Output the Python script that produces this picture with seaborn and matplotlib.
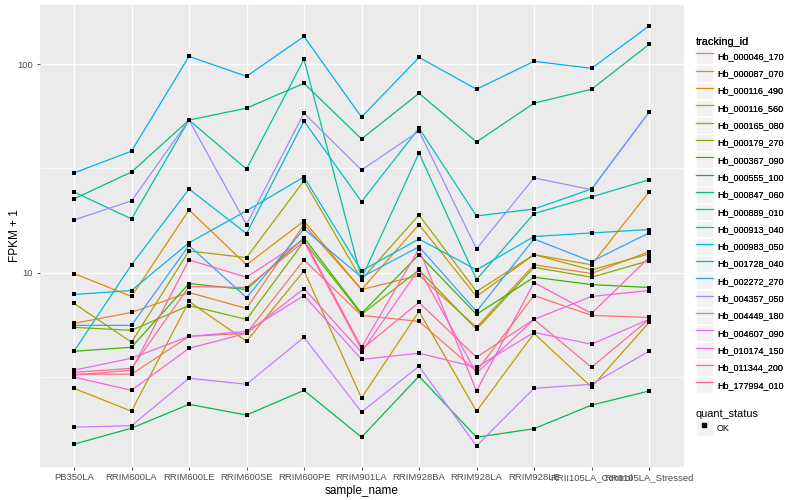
import numpy as np
import pandas as pd
import matplotlib
matplotlib.use("Agg")
import matplotlib.pyplot as plt
import seaborn as sns
from matplotlib.lines import Line2D
from matplotlib.patches import Rectangle
from matplotlib.legend_handler import HandlerLine2D
from matplotlib.ticker import NullFormatter

# ---- data (FPKM + 1 per sample) ----
samples = [
    "PB350LA", "RRIM600LA", "RRIM600LE", "RRIM600SE", "RRIM600PE", "RRIM901LA",
    "RRIM928BA", "RRIM928LA", "RRIM928LE", "RRII105LA_Control", "RRII105LA_Stressed",
]

hb_000046_170 = [3.25, 3.25, 4.94, 5.11, 11.5, 6.23, 5.83, 3.36, 7.76, 6.23, 6.09]
hb_000087_070 = [5.70, 6.44, 8.02, 6.73, 17.0, 8.29, 9.7, 5.46, 10.9, 9.9, 12.6]
hb_000116_490 = [9.9, 7.68, 20.0, 10.9, 17.7, 8.29, 17.0, 7.68, 12.2, 10.9, 24.4]
hb_000116_560 = [2.78, 2.16, 7.27, 4.68, 10.2, 2.50, 6.51, 2.16, 5.11, 2.82, 5.76]
hb_000165_080 = [7.11, 4.63, 12.7, 11.8, 27.6, 9.26, 18.9, 8.11, 12.2, 10.3, 12.3]
hb_000179_270 = [5.46, 5.28, 6.95, 5.96, 14.1, 6.30, 10.3, 5.34, 10.6, 9.5, 11.4]
hb_000367_090 = [4.19, 4.38, 8.86, 8.29, 14.7, 6.37, 12.2, 6.30, 9.5, 8.76, 8.48]
hb_000555_100 = [1.50, 1.79, 2.33, 2.07, 2.72, 1.62, 3.18, 1.62, 1.78, 2.31, 2.70]
hb_000847_060 = [22.6, 30.4, 54.0, 61.6, 81.1, 43.8, 72.6, 42.4, 65.1, 75.9, 124.6]
hb_000889_010 = [24.4, 18.1, 54.0, 31.4, 105.7, 9.36, 37.5, 9.26, 19.2, 23.1, 27.9]
hb_000913_040 = [4.19, 10.9, 25.2, 15.4, 53.4, 21.9, 49.4, 18.7, 20.2, 25.2, 58.9]
hb_000983_050 = [7.85, 8.20, 13.9, 19.8, 28.8, 10.2, 14.5, 10.3, 14.9, 15.5, 16.1]
hb_001728_040 = [30.1, 38.3, 109.2, 87.6, 136.1, 55.8, 108.0, 75.9, 103.4, 95.7, 152.8]
hb_002272_270 = [5.58, 5.58, 13.5, 7.59, 16.2, 9.5, 13.3, 6.51, 14.5, 11.3, 15.5]
hb_004357_050 = [17.9, 22.1, 54.0, 17.0, 58.3, 31.1, 47.8, 13.0, 28.5, 25.0, 58.9]
hb_004449_180 = [1.81, 1.84, 3.11, 2.91, 4.89, 2.14, 3.55, 1.47, 2.78, 2.91, 4.19]
hb_004607_090 = [3.40, 3.88, 4.94, 5.22, 7.76, 3.83, 4.10, 3.51, 5.16, 4.53, 5.96]
hb_010174_150 = [3.15, 2.72, 4.33, 5.11, 8.38, 4.15, 10.4, 3.29, 5.96, 7.68, 8.20]
hb_011344_200 = [3.22, 3.40, 11.5, 9.5, 14.4, 4.38, 13.0, 2.70, 8.96, 6.37, 11.8]
hb_177994_010 = [3.32, 3.47, 8.57, 8.48, 14.1, 4.28, 7.19, 3.92, 5.96, 3.51, 5.96]

tracking_ids = [
    "Hb_000046_170", "Hb_000087_070", "Hb_000116_490", "Hb_000116_560",
    "Hb_000165_080", "Hb_000179_270", "Hb_000367_090", "Hb_000555_100",
    "Hb_000847_060", "Hb_000889_010", "Hb_000913_040", "Hb_000983_050",
    "Hb_001728_040", "Hb_002272_270", "Hb_004357_050", "Hb_004449_180",
    "Hb_004607_090", "Hb_010174_150", "Hb_011344_200", "Hb_177994_010",
]
series = [
    hb_000046_170, hb_000087_070, hb_000116_490, hb_000116_560, hb_000165_080,
    hb_000179_270, hb_000367_090, hb_000555_100, hb_000847_060, hb_000889_010,
    hb_000913_040, hb_000983_050, hb_001728_040, hb_002272_270, hb_004357_050,
    hb_004449_180, hb_004607_090, hb_010174_150, hb_011344_200, hb_177994_010,
]
quant_status = "OK"


def hcl_color(h, c=100.0, l=65.0):
    """Polar Luv -> sRGB, same as R's hcl()."""
    xn, yn, zn = 95.047, 100.0, 108.883
    un = 4 * xn / (xn + 15 * yn + 3 * zn)
    vn = 9 * yn / (xn + 15 * yn + 3 * zn)
    hr = np.deg2rad(h)
    up = c * np.cos(hr) / (13 * l) + un
    vp = c * np.sin(hr) / (13 * l) + vn
    y = yn * ((l + 16) / 116) ** 3
    x = y * 9 * up / (4 * vp)
    z = y * (12 - 3 * up - 20 * vp) / (4 * vp)
    m = np.array([[3.240479, -1.537150, -0.498535],
                  [-0.969256, 1.875992, 0.041556],
                  [0.055648, -0.204043, 1.057311]])
    rgb = m @ (np.array([x, y, z]) / 100)
    rgb = np.where(rgb <= 0.0031308, 12.92 * rgb,
                   1.055 * np.clip(rgb, 0, None) ** (1 / 2.4) - 0.055)
    return tuple(np.clip(rgb, 0, 1))


def hue_pal(n):
    hues = np.linspace(15, 375, n + 1)[:-1]
    return [hcl_color(h) for h in hues]


class KeyHandler(HandlerLine2D):
    """Legend key with ggplot-like grey box behind the glyph."""

    def create_artists(self, legend, orig_handle, xdescent, ydescent,
                       width, height, fontsize, trans):
        bg = Rectangle((-xdescent, -ydescent), width, height,
                       facecolor="#F2F2F2", edgecolor="white", lw=0.6,
                       transform=trans)
        arts = super().create_artists(legend, orig_handle, xdescent, ydescent,
                                      width, height, fontsize, trans)
        return [bg] + list(arts)


rows = []
for tid, vals in zip(tracking_ids, series):
    for i, (s, v) in enumerate(zip(samples, vals)):
        rows.append({"tracking_id": tid, "sample_name": s, "pos": i,
                     "fpkm": v, "quant_status": quant_status})
df = pd.DataFrame(rows)

colors = hue_pal(len(tracking_ids))
palette = dict(zip(tracking_ids, colors))

plt.rcParams["font.family"] = ["Liberation Sans", "DejaVu Sans"]

fig = plt.figure(figsize=(8, 5), dpi=100)
ax = fig.add_axes([39.5 / 800, 33 / 500, 644 / 800, 462 / 500])
ax.set_facecolor("#EBEBEB")
ax.set_yscale("log")

sns.lineplot(data=df, x="pos", y="fpkm", hue="tracking_id",
             hue_order=tracking_ids, palette=palette, estimator=None,
             sort=False, lw=0.9, legend=False, ax=ax)
sns.scatterplot(data=df, x="pos", y="fpkm", color="black", marker="s",
                s=9, linewidth=0, legend=False, ax=ax, zorder=3)

lo, hi = np.log10(df["fpkm"].min()), np.log10(df["fpkm"].max())
pad = 0.05 * (hi - lo)
ax.set_ylim(10 ** (lo - pad), 10 ** (hi + pad))
ax.set_xlim(-0.6, len(samples) - 0.4)

ax.set_xticks(range(len(samples)))
ax.set_xticklabels(samples)
ax.set_yticks([10, 100])
ax.set_yticklabels(["10", "100"])
ax.set_yticks([10 ** 0.5, 10 ** 1.5], minor=True)
ax.yaxis.set_minor_formatter(NullFormatter())
ax.tick_params(which="minor", length=0)
ax.tick_params(which="major", length=2.5, width=0.6, color="#333333",
               labelsize=6.8, labelcolor="#4D4D4D", pad=2)

ax.grid(which="major", color="white", lw=1.0)
ax.grid(which="minor", axis="y", color="white", lw=0.5)
ax.set_axisbelow(True)
for sp in ax.spines.values():
    sp.set_visible(False)

ax.set_xlabel("sample_name", fontsize=8.5, labelpad=2)
ax.set_ylabel("FPKM + 1", fontsize=8.5)
ax.yaxis.set_label_coords(-0.029, 0.5)

leg_kw = dict(loc="upper left", frameon=False, fontsize=6.5,
              title_fontsize=7.8, handlelength=1.85, handleheight=2.42,
              labelspacing=0.1, handletextpad=0.45, borderpad=0,
              borderaxespad=0, alignment="left",
              handler_map={Line2D: KeyHandler()})

handles = [Line2D([], [], color=palette[t], lw=0.9) for t in tracking_ids]
leg1 = fig.legend(handles, tracking_ids, title="tracking_id",
                  bbox_to_anchor=(696 / 800, 1 - 37 / 500), **leg_kw)

ok_handle = Line2D([], [], color="black", marker="s", markersize=2.6,
                   linestyle="none")
leg2 = fig.legend([ok_handle], [quant_status], title="quant_status",
                  bbox_to_anchor=(696 / 800, 1 - 409 / 500), **leg_kw)
fig.add_artist(leg1)

fig.savefig("out.png", dpi=100)
plt.close(fig)
